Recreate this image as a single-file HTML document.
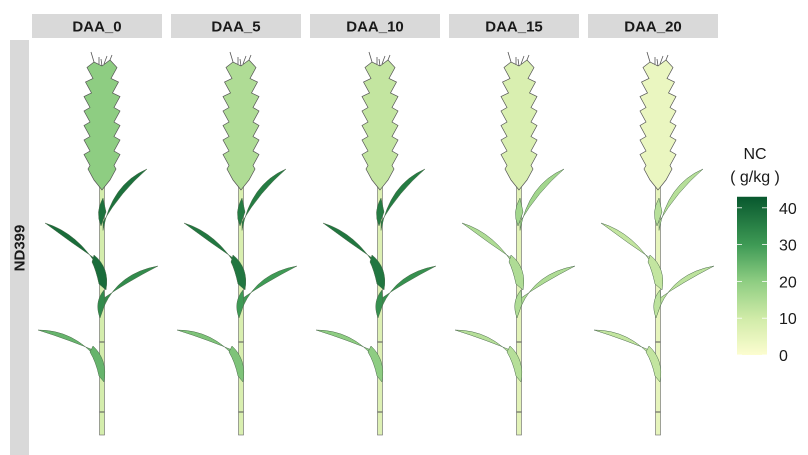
<!DOCTYPE html>
<html><head><meta charset="utf-8"><style>
body{margin:0;background:#fff;font-family:"Liberation Sans",Arial,sans-serif}
svg{display:block}
</style></head><body>
<svg id="c" width="808" height="455" viewBox="0 0 808 455"></svg>
<script>
const panels=["DAA_0","DAA_5","DAA_10","DAA_15","DAA_20"];
const spikeNC=[20,15,12,8,4];
const flagNC=[38,36,36,17,14];
const leaf2NC=[39,37,37,15,12];
const leaf3NC=[33,30,32,15,13];
const leaf4NC=[25,22,20,14,12];
const stemNC=[9,8,7,6,5];
const legendTicks=[0,10,20,30,40];
const NS="http://www.w3.org/2000/svg";
const svg=document.getElementById('c');
function el(t,a,p){const e=document.createElementNS(NS,t);for(const k in a)e.setAttribute(k,a[k]);(p||svg).appendChild(e);return e;}
const stops=[[0,[252,253,208]],[10,[208,235,168]],[20,[142,205,130]],[30,[62,154,85]],[43,[8,88,46]]];
function col(v){v=Math.max(0,Math.min(43,v));for(let i=0;i<stops.length-1;i++){const[a,ca]=stops[i],[b,cb]=stops[i+1];if(v<=b){const t=(v-a)/(b-a);return 'rgb('+ca.map((c,j)=>Math.round(c+(cb[j]-c)*t)).join(',')+')';}}}
const px0=32,pw=130,gap=9;
panels.forEach((p,i)=>{
 const x=px0+i*(pw+gap);
 const r=el('rect',{x:x,y:14,width:pw,height:24,fill:'#d9d9d9'});
 
 
 const t=el('text',{x:x+pw/2,y:31.5,'text-anchor':'middle','font-size':15,'font-weight':'bold',fill:'#1a1a1a'});
 t.textContent=p;
 
 
 drawPlant(x-px0,i);
});
const ls=el('rect',{x:10,y:40,width:19,height:415,fill:'#d9d9d9'});


const lt=el('text',{x:0,y:0,transform:'translate(24.5,248) rotate(-90)','text-anchor':'middle','font-size':15,'font-weight':'bold',fill:'#1a1a1a'});
lt.textContent='ND399';


function leaf(g,dx,b,c,t,w,fill){
 const [bx,by]=b,[cx,cy]=c,[tx,ty]=t;
 const nx=-(ty-by),ny=(tx-bx),L=Math.hypot(nx,ny),ux=nx/L*w,uy=ny/L*w;
 const d=`M${bx+dx},${by} Q${cx+dx+ux},${cy+uy} ${tx+dx},${ty} Q${cx+dx-ux},${cy-uy} ${bx+dx},${by+Math.abs(w)*1.4} Z`;
 return el('path',{d:d,fill:fill,stroke:'#4a6a4a','stroke-width':0.5},g);
}
function drawPlant(dx,i){
 const g=el('g',{});
 
 
 const sc=col(stemNC[i]);
 const st=el('rect',{x:99.5+dx,y:180,width:5,height:255,fill:sc,stroke:'#666','stroke-width':0.6},g);
 
 
 [342,412].forEach(y=>el('line',{x1:99.5+dx,x2:104.5+dx,y1:y,y2:y,stroke:'#555','stroke-width':1},g));
 const l1=leaf(g,dx,[103,222],[116,188],[147,169],6,col(flagNC[i]));
 
 el('path',{d:`M${103+dx},198 Q${95+dx},212 ${101+dx},226 L${106+dx},212 Z`,fill:col(flagNC[i]),stroke:'#4a6a4a','stroke-width':0.5},g);
 const l2=leaf(g,dx,[100,262],[75,238],[45,223],-6,col(leaf2NC[i]));
 
 el('path',{d:`M${94+dx},255 Q${110+dx},268 ${106+dx},290 L${99+dx},284 Q${96+dx},270 ${92+dx},262 Z`,fill:col(leaf2NC[i]),stroke:'#4a6a4a','stroke-width':0.5},g);
 const l3=leaf(g,dx,[104,298],[122,278],[158,266],6,col(leaf3NC[i]));
 
 el('path',{d:`M${104+dx},290 Q${94+dx},302 ${100+dx},318 L${105+dx},304 Z`,fill:col(leaf3NC[i]),stroke:'#4a6a4a','stroke-width':0.5},g);
 const l4=leaf(g,dx,[98,352],[72,335],[38,330],-5.5,col(leaf4NC[i]));
 
 el('path',{d:`M${93+dx},346 Q${108+dx},360 ${104+dx},382 L${99+dx},376 Q${96+dx},362 ${90+dx},352 Z`,fill:col(leaf4NC[i]),stroke:'#4a6a4a','stroke-width':0.5},g);
 const n=8;
 const L=[],R=[];
 for(let k=0;k<n;k++){const y=176-k*14.5;const w=k==0?14:18-(k>5?(k-5)*1.5:0);L.push([102-w+6,y+4],[102-w,y-7]);R.push([102+w-6,y+4],[102+w,y-7]);}
 L.push([94,62]);R.push([110,60]);
 const all=[[102,190],...L,[102,66],...R.reverse()];
 const sp=el('path',{d:'M'+all.map(p=>(p[0]+dx)+','+p[1]).join(' L')+' Z',fill:col(spikeNC[i]),stroke:'#555','stroke-width':0.7,'stroke-linejoin':'miter'},g);
 
 [[94,62,91,52],[99,64,99,57],[104,64,107,56],[110,60,112,55],[102,66,101,59]].forEach(a=>el('line',{x1:a[0]+dx,y1:a[1],x2:a[2]+dx,y2:a[3],stroke:'#555','stroke-width':0.8},g));
}
const lx=737,lw=30,y0=355,ppu=3.68,vmax=43;
const defs=el('defs',{});
const gr=el('linearGradient',{id:'lg',x1:0,y1:1,x2:0,y2:0},defs);
for(let v=0;v<=vmax;v+=1)el('stop',{offset:v/vmax,'stop-color':col(v)},gr);
const lr=el('rect',{x:lx,y:y0-vmax*ppu,width:lw,height:vmax*ppu,fill:'url(#lg)'});

legendTicks.forEach(v=>{
 const y=y0-v*ppu;
 el('line',{x1:lx,x2:lx+5,y1:y,y2:y,stroke:'#fff','stroke-width':0.8});
 el('line',{x1:lx+lw-5,x2:lx+lw,y1:y,y2:y,stroke:'#fff','stroke-width':0.8});
 const t=el('text',{x:lx+lw+12,y:y+6,'font-size':16,fill:'#1a1a1a'});
 t.textContent=v;
 
 
});
const t1=el('text',{x:755,y:159,'text-anchor':'middle','font-size':16,fill:'#1a1a1a'});t1.textContent='NC';

const t2=el('text',{x:755,y:182,'text-anchor':'middle','font-size':16,fill:'#1a1a1a'});t2.textContent='( g/kg )';

</script>
</body></html>
